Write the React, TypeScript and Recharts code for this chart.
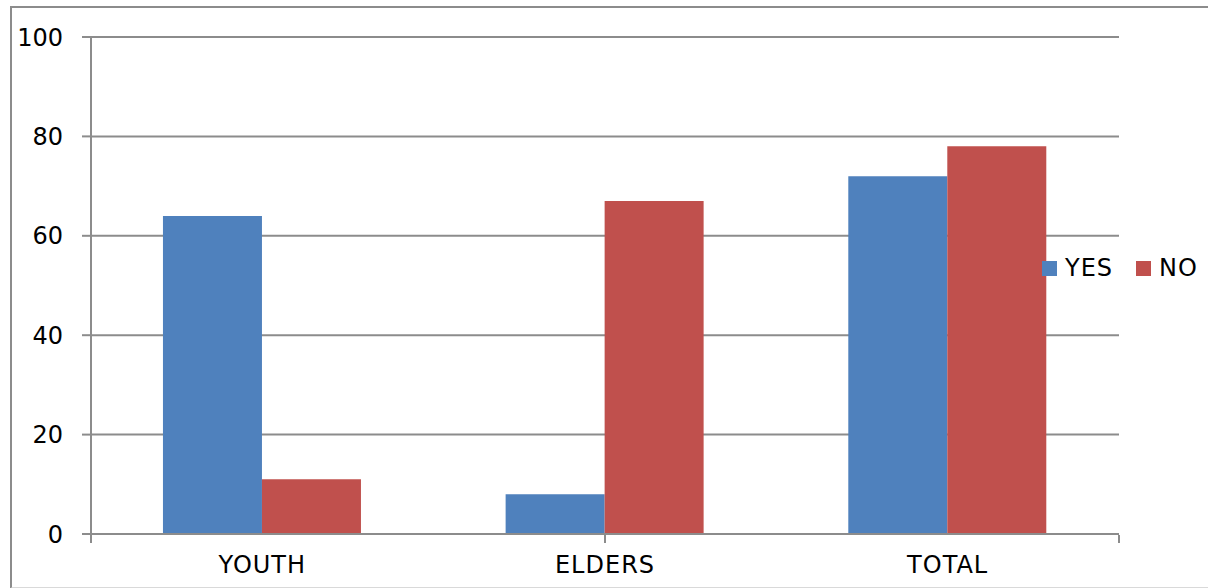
import React from 'react';
import { BarChart, Bar, XAxis, YAxis, CartesianGrid, Legend } from 'recharts';

const categories = ['YOUTH', 'ELDERS', 'TOTAL'];
const seriesNames = ['YES', 'NO'];
const yesValues = [64, 8, 72];
const noValues = [11, 67, 78];
const yTicks = [0, 20, 40, 60, 80, 100];
const edgeTicks = [0, 1, 2, 3];

const data = categories.map((c, i) => ({ name: c, YES: yesValues[i], NO: noValues[i] }));

const GRAY = '#8c8c8c';
const FONT = '"DejaVu Sans", Verdana, sans-serif';

const renderLegend = (props: any) => {
  const payload = [...(props.payload || [])].sort(
    (a: any, b: any) => seriesNames.indexOf(a.value) - seriesNames.indexOf(b.value)
  );
  return (
    <div style={{ display: 'flex', alignItems: 'center', fontFamily: FONT, fontSize: 24, letterSpacing: 1, color: '#000', whiteSpace: 'nowrap' }}>
      {payload.map((p: any, i: number) => (
        <div key={i} style={{ display: 'flex', alignItems: 'center', marginRight: i === 0 ? 23 : 0 }}>
          <span style={{ display: 'inline-block', width: 15, height: 15, background: p.color, marginRight: 8 }} />
          <span>{p.value}</span>
        </div>
      ))}
    </div>
  );
};

export default function App() {
  return (
    <div style={{ position: 'absolute', left: 0, top: 0, width: 1208, height: 588, background: '#fff', overflow: 'hidden' }}>
      <div style={{ position: 'absolute', left: 10, top: 6, width: 1300, height: 579, borderLeft: `2px solid ${GRAY}`, borderTop: `2px solid ${GRAY}`, borderBottom: '2px solid #d9d9d9' }} />
      <div style={{ position: 'absolute', left: 0, top: 0 }}>
        <BarChart
          width={1208}
          height={588}
          data={data}
          margin={{ top: 37, right: 89, bottom: 52, left: 0 }}
          barCategoryGap="21%"
          barGap={0}
        >
          <CartesianGrid vertical={false} stroke={GRAY} strokeWidth={2} />
          <XAxis
            xAxisId="edges"
            type="number"
            domain={[0, 3]}
            ticks={edgeTicks}
            allowDataOverflow
            tickFormatter={() => ''}
            tickSize={8}
            axisLine={false}
            tickLine={{ stroke: GRAY, strokeWidth: 2 }}
            height={1}
            interval={0}
          />
          <XAxis
            xAxisId="cat"
            dataKey="name"
            height={1}
            tickLine={false}
            tickSize={0}
            tickMargin={22}
            axisLine={{ stroke: GRAY, strokeWidth: 2 }}
            tick={{ fill: '#000', fontSize: 24, fontFamily: FONT, letterSpacing: 1 }}
            interval={0}
          />
          <YAxis
            width={91}
            domain={[0, 100]}
            ticks={yTicks}
            tickSize={9}
            tickMargin={19}
            axisLine={{ stroke: GRAY, strokeWidth: 2 }}
            tickLine={{ stroke: GRAY, strokeWidth: 2 }}
            tick={{ fill: '#000', fontSize: 24, fontFamily: FONT }}
          />
          <Bar xAxisId="cat" dataKey="YES" fill="#4F81BD" isAnimationActive={false} />
          <Bar xAxisId="cat" dataKey="NO" fill="#C0504D" isAnimationActive={false} />
          <Legend
            layout="vertical"
            align="center"
            verticalAlign="middle"
            content={renderLegend}
            wrapperStyle={{ position: 'absolute', left: 1042, top: 254, width: 'auto' }}
          />
        </BarChart>
      </div>
    </div>
  );
}
